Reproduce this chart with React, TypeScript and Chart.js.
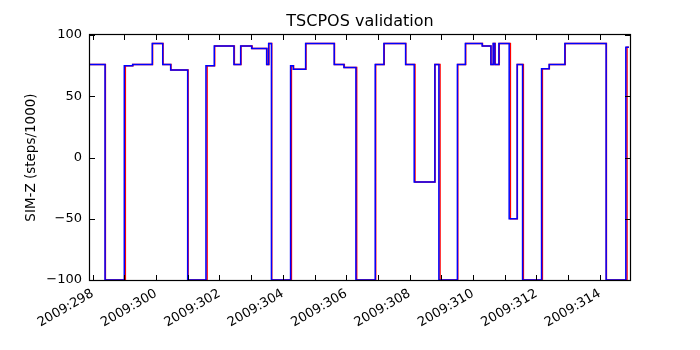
import React, { useEffect, useRef } from "react";
import { Chart, registerables } from "chart.js";

Chart.register(...registerables);

// Day-of-year (2009) at each transition, and the value held until the next one
const blueDays = [297.915, 298.39, 298.997, 299.26, 299.88, 300.21, 300.46, 300.997, 301.574, 301.836, 302.457, 302.669, 303.016, 303.489, 303.552, 303.64, 304.244, 304.328, 304.719, 305.621, 305.927, 306.306, 306.915, 307.19, 307.874, 308.145, 308.798, 308.924, 309.508, 309.76, 310.29, 310.565, 310.637, 310.69, 310.817, 311.142, 311.394, 311.565, 312.164, 312.404, 312.9, 314.202, 314.823, 314.92];
const blueVals = [76, -100, 75, 76, 93, 76, 71.5, -100, 75, 91, 76, 91, 89, 76, 93, -100, 75, 72, 93, 76, 73.5, -100, 76, 93, 76, -20, 76, -100, 76, 93, 91, 76, 93, 76, 93, -50, 76, -100, 72.5, 76, 93, -100, 90, 90];

const redDays = [297.915, 298.40, 299.03, 299.27, 299.89, 300.22, 300.47, 301.01, 301.61, 301.85, 302.47, 302.68, 303.03, 303.50, 303.56, 303.65, 304.27, 304.34, 304.73, 305.63, 305.94, 306.33, 306.93, 307.20, 307.88, 308.17, 308.80, 308.96, 309.52, 309.77, 310.30, 310.57, 310.645, 310.70, 310.83, 311.18, 311.40, 311.59, 312.19, 312.41, 312.91, 314.21, 314.86, 314.92];
const redVals = [76, -100, 75, 76, 93, 76, 71.5, -100, 75, 91, 76, 91, 89, 76, 93, -100, 75, 72, 93, 76, 73.5, -100, 76, 93, 76, -20, 76, -100, 76, 93, 91, 76, 93, 76, 93, -50, 76, -100, 72.5, 76, 93, -100, 90, 90];

const xTickDays = [298, 299, 300, 301, 302, 303, 304, 305, 306, 307, 308, 309, 310, 311, 312, 313, 314];
const yTickVals = [-100, -50, 0, 50, 100];
const xMin = 297.915;
const xMax = 314.955;

const FONT = "'DejaVu Sans', sans-serif";

const framePlugin = {
  id: "frameTicks",
  afterDraw(chart: any) {
    const { ctx, chartArea } = chart;
    const { left, right, top, bottom } = chartArea;
    const xs = chart.scales.x;
    const ys = chart.scales.y;
    const len = 5;
    ctx.save();
    ctx.strokeStyle = "#000";
    ctx.lineWidth = 1;
    ctx.beginPath();
    xs.ticks.forEach((t: any) => {
      const px = Math.round(xs.getPixelForValue(t.value)) + 0.5;
      ctx.moveTo(px, bottom);
      ctx.lineTo(px, bottom - len);
      ctx.moveTo(px, top);
      ctx.lineTo(px, top + len);
    });
    ys.ticks.forEach((t: any) => {
      const py = Math.round(ys.getPixelForValue(t.value)) + 0.5;
      ctx.moveTo(left, py);
      ctx.lineTo(left + len, py);
      ctx.moveTo(right, py);
      ctx.lineTo(right - len, py);
    });
    ctx.stroke();
    ctx.lineWidth = 1.2;
    ctx.strokeRect(left - 0.5, top - 0.5, right - left + 1, bottom - top + 1);
    ctx.restore();
  },
};

export default function App() {
  const ref = useRef<HTMLCanvasElement>(null);
  useEffect(() => {
    const canvas = ref.current;
    if (!canvas) return;
    const chart = new Chart(canvas, {
      type: "line",
      data: {
        datasets: [
          {
            label: "blue",
            data: blueDays.map((d, i) => ({ x: d, y: blueVals[i] })),
            borderColor: "#0000ff",
            borderWidth: 1.5,
            pointRadius: 0,
            stepped: "before",
            fill: false,
            order: 0,
          },
          {
            label: "red",
            data: redDays.map((d, i) => ({ x: d, y: redVals[i] })),
            borderColor: "#ff0000",
            borderWidth: 1.5,
            pointRadius: 0,
            stepped: "before",
            fill: false,
            order: 1,
          },
        ],
      },
      options: {
        responsive: false,
        animation: false,
        layout: { padding: { left: 0, right: 70, top: 0, bottom: 0 } },
        plugins: {
          legend: { display: false },
          tooltip: { enabled: false },
          title: {
            display: true,
            text: "TSCPOS validation",
            fullSize: false,
            color: "#000",
            font: { family: FONT, size: 16, weight: "normal" },
            padding: { top: 12, bottom: 3.8 },
          },
        },
        scales: {
          x: {
            type: "linear",
            min: xMin,
            max: xMax,
            grid: { display: false, drawTicks: false },
            border: { display: false },
            afterBuildTicks: (scale: any) => {
              scale.ticks = xTickDays.map((v) => ({ value: v }));
            },
            afterFit: (scale: any) => {
              scale.height = 70;
            },
            ticks: {
              autoSkip: false,
              minRotation: 30,
              maxRotation: 30,
              padding: 6,
              color: "#000",
              font: { family: FONT, size: 13 },
              callback: (v: any) => (Number(v) % 2 === 0 ? "2009:" + v : ""),
            },
          },
          y: {
            type: "linear",
            min: -100,
            max: 100,
            grid: { display: false, drawTicks: false },
            border: { display: false },
            afterBuildTicks: (scale: any) => {
              scale.ticks = yTickVals.map((v) => ({ value: v }));
            },
            afterFit: (scale: any) => {
              scale.width = 90;
            },
            ticks: {
              padding: 8,
              color: "#000",
              font: { family: FONT, size: 13 },
              callback: (v: any) => String(v).replace("-", "\u2212"),
            },
            title: {
              display: true,
              text: "SIM-Z (steps/1000)",
              color: "#000",
              font: { family: FONT, size: 13.5 },
              padding: { top: 23, bottom: 0 },
            },
          },
        },
      },
      plugins: [framePlugin],
    });
    return () => chart.destroy();
  }, []);
  return (
    <div style={{ position: "absolute", left: 0, top: 0, width: 700, height: 350, background: "#fff" }}>
      <canvas ref={ref} width={700} height={350} />
    </div>
  );
}
